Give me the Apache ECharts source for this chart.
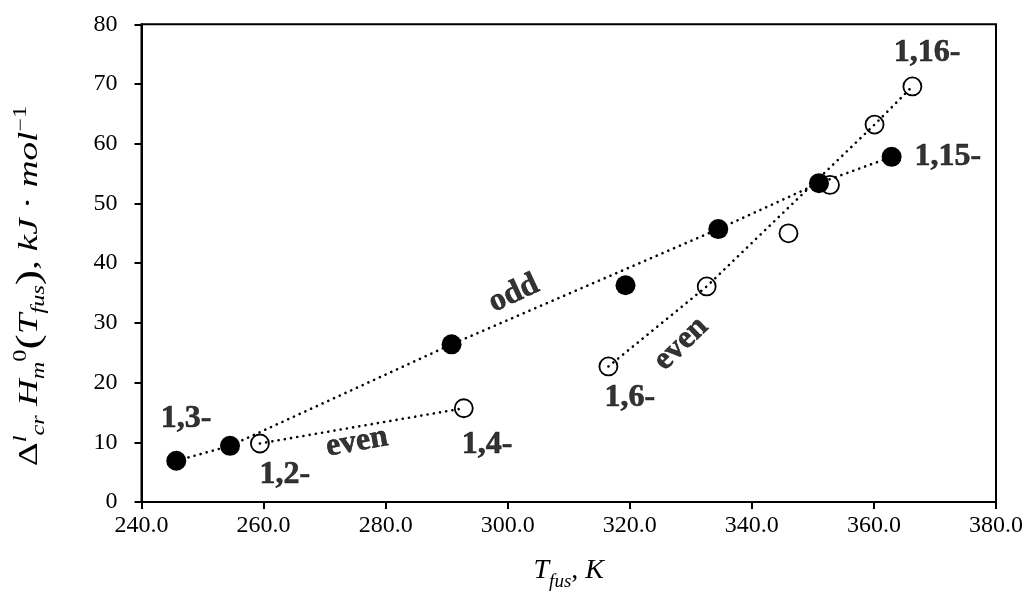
<!DOCTYPE html>
<html>
<head>
<meta charset="utf-8">
<script src="https://cdn.jsdelivr.net/npm/echarts@6/dist/echarts.min.js"></script>
<style>
html,body{margin:0;padding:0;background:#fff;}
#chart{width:1032px;height:596px;}
</style>
</head>
<body>
<div id="chart"></div>
<script>
// ---- data ----
var oddT  = [245.7, 254.5, 290.8, 319.3, 334.5, 351.0, 362.9];
var oddH  = [6.9, 9.4, 26.4, 36.3, 45.7, 53.4, 57.8];
var evenT = [259.4, 292.8, 316.5, 332.6, 346.0, 352.8, 360.1, 366.3];
var evenH = [9.8, 15.7, 22.7, 36.1, 45.0, 53.1, 63.2, 69.6];
// indices of points joined by the dotted guide lines
var oddLineIdx   = [0, 1, 2, 4, 5, 6];
var evenLineAIdx = [0, 1];
var evenLineBIdx = [2, 3, 6, 7];
// annotation texts and their anchor (data coords) + rotation
var annText = ['1,3-', '1,2-', 'even', '1,4-', 'odd', 'even', '1,6-', '1,16-', '1,15-'];
var annT    = [247.3, 263.5, 275.3, 296.6, 301.0, 328.4, 320.0, 368.7, 372.1];
var annH    = [14.0, 4.5, 10.0, 9.6, 34.9, 26.5, 17.5, 75.3, 57.8];
var annRot  = [0, 0, 10, 0, 25, 44, 0, 0, 0];
var xTicks = {min: 240, max: 380, step: 20};
var yTicks = {min: 0, max: 80, step: 10};

function pairs(xs, ys, idx) {
  var out = [];
  var list = idx || xs.map(function (_, i) { return i; });
  list.forEach(function (i) { out.push([xs[i], ys[i]]); });
  return out;
}

var SERIF = "'Liberation Serif','Times New Roman',serif";
var dotted = {color: '#000', width: 2.6, type: [0.1, 6.2], cap: 'round'};

var chart = echarts.init(document.getElementById('chart'), null, {renderer: 'canvas'});

var annData = annText.map(function (t, i) {
  return {value: [annT[i], annH[i]], label: {formatter: t, rotate: annRot[i]}};
});

var yRich = {
  n: {fontFamily: SERIF, fontSize: 29, fill: '#000', color: '#000', lineHeight: 38, verticalAlign: 'middle'},
  i: {fontFamily: SERIF, fontStyle: 'italic', fontSize: 29, fill: '#000', color: '#000', lineHeight: 38, verticalAlign: 'middle'},
  p: {fontFamily: SERIF, fontSize: 36, fill: '#000', color: '#000', lineHeight: 38, verticalAlign: 'middle'},
  sub: {fontFamily: SERIF, fontStyle: 'italic', fontSize: 19, fill: '#000', color: '#000', lineHeight: 38, verticalAlign: 'bottom'},
  sup: {fontFamily: SERIF, fontSize: 19, fill: '#000', color: '#000', lineHeight: 38, verticalAlign: 'top'},
  supi: {fontFamily: SERIF, fontStyle: 'italic', fontSize: 19, fill: '#000', color: '#000', lineHeight: 38, verticalAlign: 'top'}
};

var option = {
  backgroundColor: '#fff',
  animation: false,
  grid: {left: 141.5, right: 36, top: 24.3, bottom: 93.3, show: true,
         borderColor: '#000', borderWidth: 2, backgroundColor: 'transparent'},
  graphic: [{
    type: 'text', x: 30, y: 286, rotation: Math.PI / 2, scaleX: 1.28, scaleY: 0.95,
    style: {
      text: '{n|Δ}{supi|l}{sub|cr}{i| H}{sub|m}{sup|0}{p|(}{i|T}{sub|fus}{p|)}{n|, }{i|kJ}{n| · }{i|mol}{sup|−1}',
      rich: yRich, fill: '#000', font: '29px ' + SERIF,
      align: 'center', verticalAlign: 'middle', textAlign: 'center', textVerticalAlign: 'middle'
    },
    silent: true
  }],
  xAxis: {
    type: 'value', min: xTicks.min, max: xTicks.max, interval: xTicks.step,
    name: '{i|T}{sub|fus}{n|, }{i|K}',
    nameLocation: 'middle', nameGap: 55,
    nameTextStyle: {
      rich: {
        i: {fontFamily: SERIF, fontStyle: 'italic', fontSize: 28, color: '#000', lineHeight: 34, verticalAlign: 'top'},
        n: {fontFamily: SERIF, fontSize: 28, color: '#000', lineHeight: 34, verticalAlign: 'top'},
        sub: {fontFamily: SERIF, fontStyle: 'italic', fontSize: 19, color: '#000', lineHeight: 34, verticalAlign: 'bottom'}
      }
    },
    axisLine: {lineStyle: {color: '#000', width: 2}},
    axisTick: {inside: false, length: 7, lineStyle: {color: '#000', width: 2}},
    axisLabel: {color: '#000', fontFamily: SERIF, fontSize: 24, margin: 12,
                formatter: function (v) { return v.toFixed(1); }},
    splitLine: {show: false}
  },
  yAxis: {
    type: 'value', min: yTicks.min, max: yTicks.max, interval: yTicks.step,
    axisLine: {lineStyle: {color: '#000', width: 2}},
    axisTick: {inside: false, length: 7, lineStyle: {color: '#000', width: 2}},
    axisLabel: {color: '#000', fontFamily: SERIF, fontSize: 24, margin: 24},
    splitLine: {show: false}
  },
  series: [
    {type: 'line', name: 'oddLine', data: pairs(oddT, oddH, oddLineIdx), symbol: 'none', lineStyle: dotted, z: 2, silent: true},
    {type: 'line', name: 'evenLineA', data: pairs(evenT, evenH, evenLineAIdx), symbol: 'none', lineStyle: dotted, z: 2, silent: true},
    {type: 'line', name: 'evenLineB', data: pairs(evenT, evenH, evenLineBIdx), symbol: 'none', lineStyle: dotted, z: 2, silent: true},
    {type: 'scatter', name: 'odd', data: pairs(oddT, oddH), symbol: 'circle', symbolSize: 20,
     itemStyle: {color: '#000', opacity: 1}, z: 4},
    {type: 'scatter', name: 'even', data: pairs(evenT, evenH), symbol: 'circle', symbolSize: 18,
     itemStyle: {color: 'rgba(0,0,0,0)', borderColor: '#000', borderWidth: 1.8, opacity: 1}, z: 3},
    {type: 'scatter', name: 'labels', data: annData, symbolSize: 0, silent: true, z: 5,
     label: {show: true, position: 'inside', color: '#000', fontFamily: SERIF, fontWeight: 'bold', fontSize: 32,
             textBorderColor: '#000', textBorderWidth: 0.6}}
  ]
};
chart.setOption(option);
</script>
</body>
</html>
